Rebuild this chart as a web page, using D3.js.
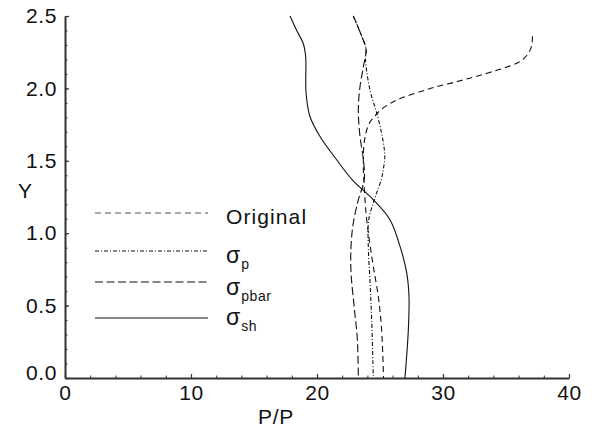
<!DOCTYPE html>
<html>
<head>
<meta charset="utf-8">
<script src="https://cdn.jsdelivr.net/npm/d3@7"></script>
<style>
  html, body { margin: 0; padding: 0; background: #fff; }
  svg { display: block; }
  text { font-family: "Liberation Sans", Arial, Helvetica, sans-serif; fill: #111; }
</style>
</head>
<body>
<svg id="chart" width="596" height="429"></svg>
<script>
// Profiles: [P/P, Y] pairs, listed from the top of each curve downward
const original = [
  [37.1, 2.36], [37.05, 2.30], [36.8, 2.245], [36.1, 2.185], [34.8, 2.14],
  [33.5, 2.105], [32.1, 2.07], [30.8, 2.04], [29.5, 2.012], [28.3, 1.98],
  [26.9, 1.94], [26.0, 1.905], [25.1, 1.855], [24.6, 1.81], [24.15, 1.76],
  [23.85, 1.68], [23.7, 1.58], [23.68, 1.45], [23.72, 1.37], [23.89, 1.14],
  [24.15, 0.955], [24.47, 0.77], [24.87, 0.56], [25.13, 0.33], [25.28, 0.0]
];
const sigmaP = [
  [22.88, 2.5], [23.55, 2.36], [23.9, 2.27], [23.85, 2.2], [24.2, 1.99],
  [24.74, 1.83], [25.13, 1.69], [25.34, 1.58], [25.38, 1.52], [25.26, 1.44],
  [25.1, 1.37], [24.74, 1.28], [24.47, 1.21], [24.1, 1.09], [24.07, 0.91],
  [24.2, 0.68], [24.34, 0.40], [24.47, 0.0]
];
const sigmaPbar = [
  [22.88, 2.5], [23.55, 2.36], [23.89, 2.27], [23.68, 2.15], [23.41, 2.01],
  [23.28, 1.85], [23.41, 1.67], [23.68, 1.51], [23.75, 1.37], [23.28, 1.23],
  [22.88, 1.07], [22.7, 0.91], [22.7, 0.73], [22.94, 0.50], [23.2, 0.27],
  [23.28, 0.0]
];
const sigmaSh = [
  [17.86, 2.5], [18.39, 2.40], [18.91, 2.31], [19.1, 2.22], [19.13, 1.97],
  [19.44, 1.806], [20.24, 1.668], [21.56, 1.507], [22.8, 1.369], [24.47, 1.231],
  [25.79, 1.093], [26.59, 0.909], [27.12, 0.726], [27.3, 0.564], [27.25, 0.334],
  [26.98, 0.0]
];

const xMajorTicks = [0, 10, 20, 30, 40];
const xMinorTicks = d3.range(0, 41, 2);
const yMajorTicks = [0, 0.5, 1.0, 1.5, 2.0, 2.5];
const yMinorTicks = d3.range(0, 26).map(i => i / 10);

const seriesNames = ["Original", "σp", "σpbar", "σsh"];
const seriesSubs = ["", "p", "pbar", "sh"];
const seriesData = [original, sigmaP, sigmaPbar, sigmaSh];
const seriesDash = ["6,4", "4,2,1,2", "8,3.5", null];

const svg = d3.select("#chart");
const x = d3.scaleLinear().domain([0, 40]).range([65, 569]);
const y = d3.scaleLinear().domain([0, 2.5]).range([378, 16]);

const axisColor = "#333";
const fontSize = 21;

// Minor ticks (inward)
svg.append("g").attr("transform", `translate(0,${y(0)})`)
  .call(d3.axisBottom(x).tickValues(xMinorTicks).tickSize(-2.5).tickSizeOuter(0).tickFormat(""))
  .call(g => g.select(".domain").remove())
  .call(g => g.selectAll("line").attr("stroke", axisColor));
svg.append("g").attr("transform", `translate(${x(0)},0)`)
  .call(d3.axisLeft(y).tickValues(yMinorTicks).tickSize(-2.5).tickSizeOuter(0).tickFormat(""))
  .call(g => g.select(".domain").remove())
  .call(g => g.selectAll("line").attr("stroke", axisColor));

// Major axes
const xAxis = svg.append("g").attr("transform", `translate(0,${y(0)})`)
  .call(d3.axisBottom(x).tickValues(xMajorTicks).tickSize(-4).tickSizeOuter(0).tickPadding(7).tickFormat(d3.format("d")));
const yAxis = svg.append("g").attr("transform", `translate(${x(0)},0)`)
  .call(d3.axisLeft(y).tickValues(yMajorTicks).tickSize(-4).tickSizeOuter(0).tickPadding(8).tickFormat(d3.format(".1f")));

[xAxis, yAxis].forEach(g => {
  g.select(".domain").attr("stroke", axisColor).attr("stroke-width", 2);
  g.selectAll(".tick line").attr("stroke", axisColor).attr("stroke-width", 1.2);
  g.selectAll(".tick text")
    .attr("fill", "#111")
    .style("font-family", '"Liberation Sans", Arial, sans-serif')
    .style("font-size", fontSize + "px")
    .style("letter-spacing", "0.6px");
});
// lift the zero label off the corner
yAxis.selectAll(".tick").filter(d => d === 0).select("text").attr("y", -5);

// Axis titles
svg.append("text").attr("x", 25).attr("y", 198).attr("text-anchor", "middle")
  .style("font-size", fontSize + "px").text("Y");
svg.append("text").attr("x", 276).attr("y", 424).attr("text-anchor", "middle")
  .style("font-size", fontSize + "px").style("letter-spacing", "0.8px").text("P/P");

// Curves
const line = d3.line()
  .x(d => x(d[0]))
  .y(d => y(d[1]))
  .curve(d3.curveCatmullRom.alpha(0.5));

seriesData.forEach((data, i) => {
  svg.append("path")
    .datum(data)
    .attr("fill", "none")
    .attr("stroke", "#111")
    .attr("stroke-width", 1.1)
    .attr("stroke-dasharray", seriesDash[i])
    .attr("d", line);
});

// Legend
const legendLineY = [213, 251, 282, 318];
const legendTextY = [224, 263, 295, 325];
const legend = svg.append("g");
seriesData.forEach((data, i) => {
  legend.append("line")
    .attr("x1", 95).attr("x2", 208)
    .attr("y1", legendLineY[i]).attr("y2", legendLineY[i])
    .attr("stroke", i === 0 ? "#555" : "#111")
    .attr("stroke-width", 1.1)
    .attr("stroke-dasharray", seriesDash[i]);
  const t = legend.append("text")
    .attr("x", 226).attr("y", legendTextY[i])
    .style("font-size", fontSize + "px");
  if (seriesSubs[i] === "") {
    t.style("letter-spacing", "1.1px").text(seriesNames[i]);
  } else {
    t.append("tspan").style("font-size", "23px").text("σ");
    t.append("tspan")
      .attr("dy", 6)
      .attr("dx", 1)
      .style("font-size", "14px")
      .style("letter-spacing", "0.6px")
      .text(seriesSubs[i]);
  }
});
</script>
</body>
</html>
